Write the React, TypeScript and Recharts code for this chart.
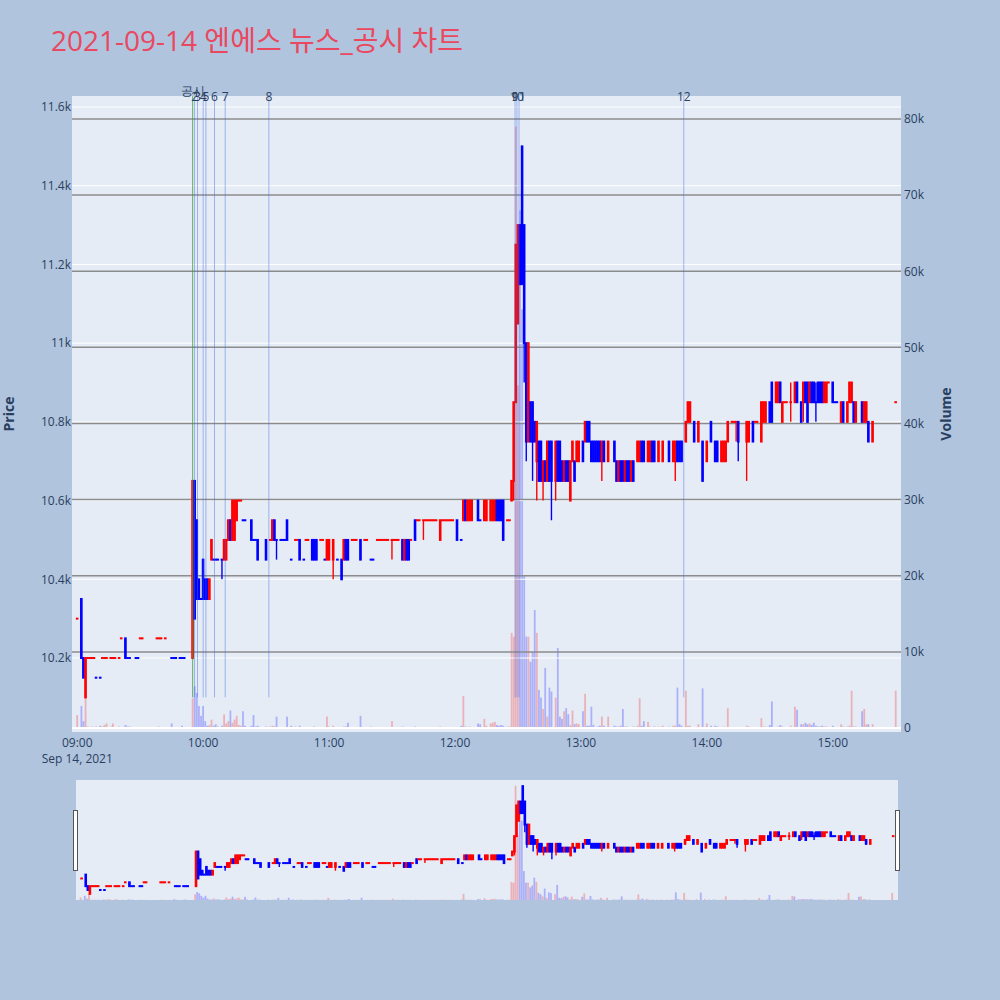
import React from "react";
import { ComposedChart, Bar, XAxis, YAxis, ReferenceLine } from "recharts";

// [minute after 09:00, open, high, low, close, volume]
type Candle = [number, number, number, number, number, number];

const preOpen: Candle[] = [
  [0, 10300, 10300, 10300, 10300, 1700],
  [2, 10350, 10350, 10200, 10200, 2900],
  [3, 10200, 10200, 10150, 10150, 900],
  [4, 10100, 10200, 10100, 10200, 4100],
  [5, 10200, 10200, 10200, 10200, 200],
  [6, 10200, 10200, 10200, 10200, 100],
  [7, 10200, 10200, 10200, 10200, 200],
  [8, 10200, 10200, 10200, 10200, 100],
  [9, 10150, 10150, 10150, 10150, 200],
  [11, 10150, 10150, 10150, 10150, 300],
  [12, 10200, 10200, 10200, 10200, 200],
  [13, 10200, 10200, 10200, 10200, 400],
  [14, 10200, 10200, 10200, 10200, 600],
  [16, 10200, 10200, 10200, 10200, 200],
  [17, 10200, 10200, 10200, 10200, 600],
  [18, 10200, 10200, 10200, 10200, 100],
  [20, 10200, 10200, 10200, 10200, 200],
  [21, 10250, 10250, 10250, 10250, 100],
  [23, 10250, 10250, 10200, 10200, 400],
  [24, 10200, 10200, 10200, 10200, 200],
  [25, 10200, 10200, 10200, 10200, 200],
  [28, 10200, 10200, 10200, 10200, 100],
  [29, 10200, 10200, 10200, 10200, 100],
  [30, 10250, 10250, 10250, 10250, 100],
  [31, 10250, 10250, 10250, 10250, 100],
  [38, 10250, 10250, 10250, 10250, 100],
  [39, 10250, 10250, 10250, 10250, 200],
  [40, 10250, 10250, 10250, 10250, 100],
  [42, 10250, 10250, 10250, 10250, 100],
  [45, 10200, 10200, 10200, 10200, 600],
  [46, 10200, 10200, 10200, 10200, 100],
  [47, 10200, 10200, 10200, 10200, 100],
  [49, 10200, 10200, 10200, 10200, 100],
  [50, 10200, 10200, 10200, 10200, 300],
  [51, 10200, 10200, 10200, 10200, 100],
];

const newsBurst: Candle[] = [
  [55, 10200, 10650, 10200, 10650, 3900],
  [56, 10650, 10650, 10300, 10300, 5500],
  [57, 10550, 10550, 10350, 10350, 4600],
  [58, 10400, 10400, 10350, 10350, 2900],
  [59, 10350, 10350, 10350, 10350, 1600],
  [60, 10450, 10450, 10350, 10350, 2900],
  [61, 10400, 10400, 10350, 10350, 900],
  [62, 10400, 10400, 10350, 10350, 300],
  [63, 10350, 10400, 10350, 10400, 400],
  [64, 10450, 10500, 10450, 10500, 1100],
  [65, 10450, 10450, 10450, 10450, 300],
  [66, 10450, 10450, 10450, 10450, 500],
  [67, 10450, 10450, 10450, 10450, 200],
  [69, 10450, 10450, 10400, 10450, 300],
  [70, 10450, 10500, 10450, 10500, 1800],
  [71, 10450, 10500, 10450, 10500, 600],
  [72, 10500, 10550, 10500, 10550, 900],
  [73, 10550, 10550, 10500, 10500, 2300],
  [74, 10500, 10600, 10500, 10600, 700],
  [75, 10500, 10600, 10500, 10600, 1100],
  [76, 10550, 10600, 10550, 10600, 1600],
  [77, 10600, 10600, 10600, 10600, 400],
  [78, 10600, 10600, 10600, 10600, 300],
  [79, 10550, 10550, 10550, 10550, 2200],
  [80, 10550, 10550, 10550, 10550, 300],
  [83, 10550, 10550, 10500, 10500, 300],
  [84, 10500, 10500, 10500, 10500, 1700],
  [85, 10500, 10500, 10500, 10500, 200],
  [86, 10500, 10500, 10450, 10450, 300],
  [90, 10500, 10500, 10450, 10450, 200],
  [92, 10500, 10500, 10500, 10500, 200],
  [93, 10500, 10550, 10500, 10550, 300],
  [94, 10550, 10550, 10500, 10500, 200],
  [95, 10500, 10500, 10450, 10500, 1500],
  [97, 10500, 10500, 10500, 10500, 100],
  [98, 10500, 10500, 10500, 10500, 100],
  [99, 10500, 10500, 10500, 10500, 100],
  [100, 10550, 10550, 10500, 10500, 1500],
  [102, 10450, 10450, 10450, 10450, 300],
  [104, 10500, 10500, 10500, 10500, 200],
  [105, 10500, 10500, 10500, 10500, 100],
  [106, 10500, 10500, 10450, 10450, 300],
];

const midday: Candle[] = [
  [108, 10450, 10450, 10450, 10450, 100],
  [109, 10500, 10500, 10500, 10500, 100],
  [110, 10500, 10500, 10500, 10500, 100],
  [112, 10500, 10500, 10450, 10450, 100],
  [113, 10500, 10500, 10450, 10450, 200],
  [114, 10500, 10500, 10450, 10450, 100],
  [116, 10500, 10500, 10500, 10500, 100],
  [117, 10500, 10500, 10500, 10500, 100],
  [118, 10450, 10450, 10450, 10450, 100],
  [119, 10450, 10500, 10450, 10500, 1500],
  [120, 10450, 10500, 10450, 10500, 200],
  [122, 10450, 10500, 10400, 10500, 300],
  [124, 10450, 10450, 10450, 10450, 100],
  [126, 10450, 10450, 10400, 10400, 100],
  [127, 10450, 10500, 10450, 10500, 200],
  [128, 10500, 10500, 10450, 10450, 200],
  [129, 10500, 10500, 10450, 10450, 700],
  [131, 10500, 10500, 10500, 10500, 100],
  [132, 10500, 10500, 10500, 10500, 100],
  [133, 10500, 10500, 10500, 10500, 100],
  [135, 10500, 10500, 10450, 10450, 1600],
  [137, 10500, 10500, 10500, 10500, 100],
  [138, 10500, 10500, 10500, 10500, 100],
  [140, 10450, 10450, 10450, 10450, 200],
  [141, 10450, 10450, 10450, 10450, 100],
  [143, 10500, 10500, 10500, 10500, 100],
  [144, 10500, 10500, 10500, 10500, 100],
  [145, 10500, 10500, 10500, 10500, 100],
  [146, 10500, 10500, 10500, 10500, 100],
  [147, 10500, 10500, 10500, 10500, 100],
  [148, 10500, 10500, 10500, 10500, 100],
  [150, 10500, 10500, 10450, 10500, 900],
  [151, 10500, 10500, 10500, 10500, 100],
  [152, 10500, 10500, 10500, 10500, 100],
  [153, 10500, 10500, 10500, 10500, 100],
  [155, 10500, 10500, 10450, 10450, 200],
  [156, 10450, 10500, 10450, 10500, 100],
  [157, 10500, 10500, 10450, 10450, 100],
  [158, 10500, 10500, 10450, 10450, 100],
  [159, 10500, 10500, 10500, 10500, 100],
  [161, 10550, 10550, 10500, 10500, 200],
  [162, 10550, 10550, 10550, 10550, 100],
  [163, 10550, 10550, 10550, 10550, 100],
  [165, 10550, 10550, 10500, 10550, 100],
  [166, 10550, 10550, 10550, 10550, 100],
  [167, 10550, 10550, 10550, 10550, 100],
  [168, 10550, 10550, 10550, 10550, 100],
  [169, 10550, 10550, 10550, 10550, 100],
  [170, 10550, 10550, 10550, 10550, 100],
  [171, 10550, 10550, 10550, 10550, 100],
  [173, 10500, 10550, 10500, 10550, 200],
  [174, 10550, 10550, 10550, 10550, 100],
  [175, 10550, 10550, 10550, 10550, 100],
  [176, 10550, 10550, 10550, 10550, 100],
  [177, 10550, 10550, 10550, 10550, 100],
  [178, 10550, 10550, 10550, 10550, 100],
  [179, 10550, 10550, 10550, 10550, 100],
  [181, 10550, 10550, 10500, 10500, 100],
  [183, 10500, 10500, 10500, 10500, 300],
  [184, 10550, 10600, 10550, 10600, 4200],
  [185, 10600, 10600, 10550, 10550, 200],
  [186, 10550, 10600, 10550, 10600, 100],
  [187, 10550, 10600, 10550, 10600, 200],
  [188, 10550, 10600, 10550, 10600, 100],
  [191, 10600, 10600, 10550, 10550, 600],
  [192, 10550, 10550, 10550, 10550, 500],
  [194, 10550, 10600, 10550, 10600, 1200],
  [195, 10550, 10600, 10550, 10600, 300],
  [197, 10550, 10600, 10550, 10600, 600],
  [198, 10550, 10600, 10550, 10600, 700],
  [199, 10550, 10600, 10550, 10600, 800],
  [200, 10600, 10600, 10550, 10550, 400],
  [201, 10600, 10600, 10550, 10550, 300],
  [202, 10600, 10600, 10550, 10550, 400],
  [203, 10600, 10600, 10500, 10500, 300],
  [205, 10550, 10550, 10550, 10550, 200],
  [206, 10550, 10550, 10550, 10550, 200],
];

const spike: Candle[] = [
  [207, 10600, 10650, 10600, 10650, 12500],
  [208, 10650, 10850, 10600, 10850, 12000],
  [209, 10850, 11250, 10850, 11250, 79000],
  [210, 11050, 11300, 11050, 11300, 45000],
  [211, 11300, 11300, 11150, 11150, 68000],
  [212, 11500, 11500, 11150, 11150, 55000],
  [213, 11300, 11300, 10900, 11000, 20000],
  [214, 11000, 11000, 10700, 10750, 12000],
  [215, 10750, 11000, 10750, 11000, 12000],
  [216, 10850, 10850, 10750, 10750, 8700],
  [217, 10850, 10850, 10650, 10750, 10000],
  [218, 10800, 10800, 10750, 10750, 15500],
  [219, 10700, 10800, 10600, 10800, 12500],
  [220, 10750, 10750, 10650, 10650, 5000],
  [221, 10750, 10750, 10650, 10650, 4000],
  [222, 10650, 10700, 10600, 10700, 2500],
  [223, 10700, 10700, 10650, 10650, 7900],
  [224, 10650, 10750, 10650, 10750, 1500],
  [225, 10750, 10750, 10650, 10650, 5300],
  [226, 10750, 10750, 10550, 10650, 4800],
  [228, 10650, 10750, 10600, 10750, 4000],
  [229, 10750, 10750, 10650, 10650, 10500],
  [230, 10750, 10750, 10650, 10650, 1500],
  [231, 10700, 10700, 10650, 10650, 1200],
  [232, 10650, 10700, 10650, 10700, 2200],
  [233, 10700, 10700, 10650, 10650, 2600],
  [234, 10700, 10700, 10650, 10650, 1800],
];

const afternoon: Candle[] = [
  [235, 10600, 10700, 10600, 10700, 400],
  [236, 10700, 10750, 10700, 10750, 2300],
  [237, 10700, 10700, 10650, 10650, 500],
  [238, 10700, 10750, 10700, 10750, 600],
  [239, 10700, 10750, 10700, 10750, 500],
  [241, 10750, 10750, 10700, 10700, 2200],
  [242, 10750, 10800, 10750, 10800, 4500],
  [243, 10800, 10800, 10750, 10750, 300],
  [244, 10800, 10800, 10750, 10750, 300],
  [245, 10750, 10750, 10700, 10700, 2800],
  [246, 10750, 10750, 10700, 10700, 400],
  [247, 10750, 10750, 10700, 10700, 100],
  [248, 10750, 10750, 10700, 10700, 200],
  [249, 10750, 10750, 10700, 10700, 300],
  [250, 10700, 10750, 10650, 10750, 1500],
  [251, 10750, 10750, 10700, 10700, 300],
  [253, 10700, 10750, 10700, 10750, 1500],
  [256, 10750, 10750, 10700, 10700, 300],
  [257, 10700, 10700, 10650, 10650, 200],
  [258, 10650, 10700, 10650, 10700, 200],
  [259, 10700, 10700, 10650, 10650, 300],
  [260, 10700, 10700, 10650, 10650, 2500],
  [261, 10650, 10700, 10650, 10700, 200],
  [262, 10700, 10700, 10650, 10650, 200],
  [263, 10700, 10700, 10650, 10650, 100],
  [264, 10650, 10700, 10650, 10700, 100],
  [265, 10700, 10700, 10650, 10650, 200],
  [267, 10700, 10750, 10700, 10750, 300],
  [268, 10700, 10750, 10700, 10750, 3900],
  [269, 10750, 10750, 10700, 10700, 300],
  [270, 10750, 10750, 10700, 10700, 900],
  [272, 10700, 10750, 10700, 10750, 800],
  [273, 10700, 10750, 10700, 10750, 200],
  [274, 10750, 10750, 10700, 10700, 100],
  [275, 10750, 10750, 10700, 10700, 200],
  [277, 10700, 10750, 10700, 10750, 200],
  [279, 10700, 10750, 10700, 10750, 300],
  [282, 10750, 10750, 10700, 10700, 200],
  [284, 10700, 10750, 10700, 10750, 300],
  [285, 10700, 10750, 10650, 10750, 300],
  [286, 10750, 10750, 10700, 10700, 5300],
  [287, 10750, 10750, 10700, 10700, 500],
  [288, 10750, 10750, 10700, 10700, 300],
  [290, 10750, 10800, 10750, 10800, 4900],
  [291, 10800, 10850, 10800, 10850, 300],
  [292, 10800, 10850, 10800, 10850, 300],
  [294, 10800, 10800, 10750, 10750, 100],
  [296, 10750, 10800, 10750, 10800, 500],
  [298, 10750, 10750, 10650, 10650, 5200],
  [300, 10700, 10750, 10700, 10750, 600],
  [302, 10800, 10800, 10750, 10750, 300],
  [304, 10750, 10750, 10700, 10700, 300],
  [305, 10750, 10750, 10700, 10700, 200],
  [307, 10700, 10750, 10700, 10750, 100],
  [308, 10700, 10750, 10700, 10750, 200],
  [309, 10700, 10750, 10700, 10750, 100],
  [310, 10750, 10800, 10750, 10800, 2600],
  [312, 10800, 10800, 10800, 10800, 100],
  [313, 10800, 10800, 10800, 10800, 100],
  [314, 10800, 10800, 10750, 10800, 100],
  [315, 10800, 10800, 10700, 10750, 100],
  [319, 10750, 10800, 10650, 10800, 300],
  [320, 10750, 10800, 10750, 10800, 200],
  [322, 10800, 10800, 10750, 10750, 100],
  [323, 10800, 10800, 10800, 10800, 100],
  [324, 10800, 10800, 10800, 10800, 100],
  [326, 10750, 10850, 10750, 10850, 1300],
  [327, 10800, 10850, 10800, 10850, 200],
  [328, 10800, 10850, 10800, 10850, 200],
  [330, 10850, 10850, 10800, 10800, 400],
  [331, 10900, 10900, 10800, 10800, 3500],
  [333, 10850, 10900, 10850, 10900, 100],
  [334, 10850, 10900, 10850, 10900, 200],
  [335, 10900, 10900, 10850, 10850, 400],
  [336, 10800, 10850, 10800, 10850, 200],
  [337, 10850, 10850, 10850, 10850, 100],
  [338, 10850, 10850, 10850, 10850, 100],
  [340, 10850, 10900, 10800, 10850, 300],
  [342, 10850, 10900, 10850, 10900, 2800],
  [343, 10900, 10900, 10850, 10850, 2400],
  [345, 10850, 10850, 10800, 10800, 500],
  [346, 10850, 10900, 10800, 10900, 500],
  [347, 10900, 10900, 10850, 10850, 700],
  [348, 10900, 10900, 10800, 10800, 500],
  [349, 10850, 10900, 10850, 10900, 600],
  [350, 10900, 10900, 10850, 10850, 400],
  [351, 10900, 10900, 10850, 10850, 700],
  [352, 10850, 10900, 10800, 10850, 300],
  [353, 10900, 10900, 10850, 10850, 200],
  [354, 10900, 10900, 10850, 10850, 200],
  [355, 10900, 10900, 10850, 10850, 300],
  [356, 10850, 10900, 10850, 10900, 200],
  [357, 10850, 10900, 10850, 10900, 200],
  [358, 10900, 10900, 10900, 10900, 100],
  [360, 10900, 10900, 10850, 10850, 300],
  [361, 10850, 10850, 10850, 10850, 100],
  [362, 10850, 10850, 10850, 10850, 100],
  [364, 10800, 10850, 10800, 10850, 500],
  [365, 10850, 10850, 10800, 10800, 200],
  [367, 10800, 10850, 10800, 10850, 200],
  [368, 10850, 10900, 10850, 10900, 300],
  [369, 10850, 10900, 10850, 10900, 4900],
  [370, 10850, 10850, 10800, 10800, 200],
  [371, 10800, 10850, 10800, 10850, 200],
  [374, 10850, 10850, 10800, 10800, 2200],
  [375, 10800, 10850, 10800, 10850, 2500],
  [376, 10800, 10850, 10800, 10850, 500],
  [377, 10800, 10800, 10750, 10750, 500],
  [379, 10750, 10800, 10750, 10800, 500],
  [390, 10850, 10850, 10850, 10850, 4900],
];

// news / disclosure markers (minutes after 09:00)
const newsMinutes = [55, 55.9, 57.3, 60, 61.3, 65.4, 70.5, 91.3, 208.6, 209.5, 210.5, 289];
const newsLabels = ["공시", "2", "3", "4", "5", "6", "7", "8", "9", "10", "11", "12"];

const priceTicks = [10200, 10400, 10600, 10800, 11000, 11200, 11400, 11600];
const volumeTicks = [0, 10000, 20000, 30000, 40000, 50000, 60000, 70000, 80000];
const timeTicks = [0, 60, 120, 180, 240, 300, 360];
const timeLabels = ["09:00", "10:00", "11:00", "12:00", "13:00", "14:00", "15:00"];

const UP = "#ff0000";
const DOWN = "#0000ff";
const INK = "#2a3f5f";
const FONT = "'Open Sans', verdana, arial, sans-serif";

const X_DOMAIN: [number, number] = [-2.5, 392.5];
const PRICE_DOMAIN: [number, number] = [10012, 11628];
const VOL_DOMAIN: [number, number] = [-525, 83020];
const SLIDER_PRICE: [number, number] = [10020, 11580];

// plotly colours an open==close candle by comparing with the previous close
function buildRows() {
  const all = [...preOpen, ...newsBurst, ...midday, ...spike, ...afternoon].sort((a, b) => a[0] - b[0]);
  let up = true;
  let prev: number | null = null;
  return all.map(([m, o, h, l, c, v]) => {
    if (c === o) {
      if (prev !== null && c !== prev) up = c > prev;
    } else up = c > o;
    prev = c;
    return { m, o, h, l, c, v, up, range: [l, h] };
  });
}
const rows = buildRows();

const CandleShape = (props: any) => {
  const { x, width, payload } = props;
  let { y, height } = props;
  if (height < 0) {
    y += height;
    height = -height;
  }
  const { o, h, l, c, up } = payload;
  const color = up ? UP : DOWN;
  const cx = x + width / 2;
  const k = h > l ? height / (h - l) : 0;
  const yOf = (val: number) => y + (h - val) * k;
  const top = yOf(Math.max(o, c));
  const bot = yOf(Math.min(o, c));
  return (
    <g>
      {h > l && <line x1={cx} x2={cx} y1={y} y2={y + height} stroke={color} strokeWidth={1.4} />}
      <rect x={cx - 1.3} y={top - 1} width={2.6} height={bot - top + 2} fill={color} />
    </g>
  );
};

const VolumeShape = (props: any) => {
  const { x, width, payload } = props;
  let { y, height } = props;
  if (height < 0) {
    y += height;
    height = -height;
  }
  const cx = x + width / 2;
  return <rect x={cx - 0.9} y={y} width={1.8} height={height} fill={payload.up ? UP : DOWN} fillOpacity={0.25} />;
};

const TimeTick = (props: any) => {
  const { x, y, payload } = props;
  const label = timeLabels[timeTicks.indexOf(payload.value)];
  return (
    <g>
      <text x={x} y={y} dy={7} textAnchor="middle" fill={INK} fontSize={12} fontFamily={FONT}>
        {label}
      </text>
      {payload.value === 0 && (
        <text x={x} y={y} dy={23} textAnchor="middle" fill={INK} fontSize={12} fontFamily={FONT}>
          Sep 14, 2021
        </text>
      )}
    </g>
  );
};

const kFormat = (v: number) => (v === 0 ? "0" : `${v / 1000}k`);

export default function App() {
  const tickStyle = { fill: INK, fontSize: 12, fontFamily: FONT };
  return (
    <div style={{ position: "absolute", left: 0, top: 0, width: 1000, height: 1000, background: "#b0c4de", overflow: "hidden" }}>
      {/* plot background */}
      <div style={{ position: "absolute", left: 72, top: 96, width: 829, height: 636, background: "#e5ecf6" }} />

      {/* axes, grid and volume */}
      <div style={{ position: "absolute", left: 0, top: 0 }}>
        <ComposedChart width={1000} height={800} data={rows} margin={{ top: 96, right: 39, bottom: 38, left: 10 }}>
          <XAxis
            dataKey="m"
            type="number"
            domain={X_DOMAIN}
            allowDataOverflow
            ticks={timeTicks}
            interval={0}
            tick={<TimeTick />}
            tickLine={false}
            axisLine={false}
            height={30}
          />
          <YAxis
            yAxisId="price"
            domain={PRICE_DOMAIN}
            allowDataOverflow
            ticks={priceTicks}
            interval={0}
            tickFormatter={kFormat}
            width={62}
            tickLine={false}
            axisLine={false}
            tickSize={0}
            tickMargin={1}
            tick={tickStyle}
          />
          <YAxis
            yAxisId="vol"
            orientation="right"
            domain={VOL_DOMAIN}
            allowDataOverflow
            ticks={volumeTicks}
            interval={0}
            tickFormatter={kFormat}
            width={60}
            tickLine={false}
            axisLine={false}
            tickSize={0}
            tickMargin={3}
            tick={tickStyle}
          />
          {priceTicks.map((p) => (
            <ReferenceLine key={`p${p}`} yAxisId="price" y={p} stroke="#ffffff" strokeWidth={1} />
          ))}
          {volumeTicks
            .filter((v) => v > 0)
            .map((v) => (
              <ReferenceLine key={`v${v}`} yAxisId="vol" y={v} stroke="#8c8c8c" strokeWidth={1.5} />
            ))}
          <ReferenceLine yAxisId="vol" y={0} stroke="#ffffff" strokeWidth={2} />
          <Bar yAxisId="vol" dataKey="v" barSize={2} shape={(p: any) => <VolumeShape {...p} />} isAnimationActive={false} />
        </ComposedChart>
      </div>

      {/* candles and news markers */}
      <div style={{ position: "absolute", left: 0, top: 0 }}>
        <ComposedChart width={1000} height={800} data={rows} margin={{ top: 96, right: 99, bottom: 68, left: 72 }}>
          <XAxis dataKey="m" type="number" domain={X_DOMAIN} allowDataOverflow hide />
          <YAxis domain={PRICE_DOMAIN} allowDataOverflow hide />
          <Bar dataKey="range" barSize={3} shape={(p: any) => <CandleShape {...p} />} isAnimationActive={false} />
          {newsMinutes.map((m, i) => (
            <ReferenceLine
              key={`n${i}`}
              segment={[
                { x: m, y: 10100 },
                { x: m, y: PRICE_DOMAIN[1] },
              ]}
              stroke={i === 0 ? "#3c9a3c" : "#4169e1"}
              strokeOpacity={i === 0 ? 0.8 : 0.45}
              strokeWidth={1}
              label={(lp: any) => (
                <text
                  x={lp.viewBox ? lp.viewBox.x : 0}
                  y={i === 0 ? 95 : 101}
                  textAnchor="middle"
                  fill={INK}
                  fontSize={12}
                  fontFamily={FONT}
                >
                  {newsLabels[i]}
                </text>
              )}
            />
          ))}
        </ComposedChart>
      </div>

      {/* range slider */}
      <div style={{ position: "absolute", left: 76, top: 780, width: 822, height: 120, background: "#e5ecf6" }} />
      <div style={{ position: "absolute", left: 76, top: 780 }}>
        <ComposedChart width={822} height={120} data={rows} margin={{ top: 0, right: 0, bottom: 0, left: 0 }}>
          <XAxis dataKey="m" type="number" domain={X_DOMAIN} allowDataOverflow hide />
          <YAxis yAxisId="price" domain={SLIDER_PRICE} allowDataOverflow hide />
          <YAxis yAxisId="vol" orientation="right" domain={[0, 83020]} allowDataOverflow hide />
          <Bar yAxisId="vol" dataKey="v" barSize={2} shape={(p: any) => <VolumeShape {...p} />} isAnimationActive={false} />
          <Bar yAxisId="price" dataKey="range" barSize={3} shape={(p: any) => <CandleShape {...p} />} isAnimationActive={false} />
        </ComposedChart>
      </div>
      <div style={{ position: "absolute", left: 73, top: 810, width: 3, height: 59, background: "#fff", border: "1px solid #555" }} />
      <div style={{ position: "absolute", left: 895, top: 810, width: 3, height: 59, background: "#fff", border: "1px solid #555" }} />

      {/* titles */}
      <svg width={1000} height={1000} style={{ position: "absolute", left: 0, top: 0, pointerEvents: "none" }}>
        <text x={51} y={51} fill="#e9485f" fontSize={28} fontFamily="'Open Sans', 'Noto Sans CJK KR', sans-serif">
          2021-09-14 엔에스 뉴스_공시 차트
        </text>
        <text x={14} y={414} transform="rotate(-90 14 414)" textAnchor="middle" fill={INK} fontSize={14} fontWeight="bold" fontFamily={FONT}>
          Price
        </text>
        <text x={951} y={414} transform="rotate(-90 951 414)" textAnchor="middle" fill={INK} fontSize={14} fontWeight="bold" fontFamily={FONT}>
          Volume
        </text>
      </svg>
    </div>
  );
}
